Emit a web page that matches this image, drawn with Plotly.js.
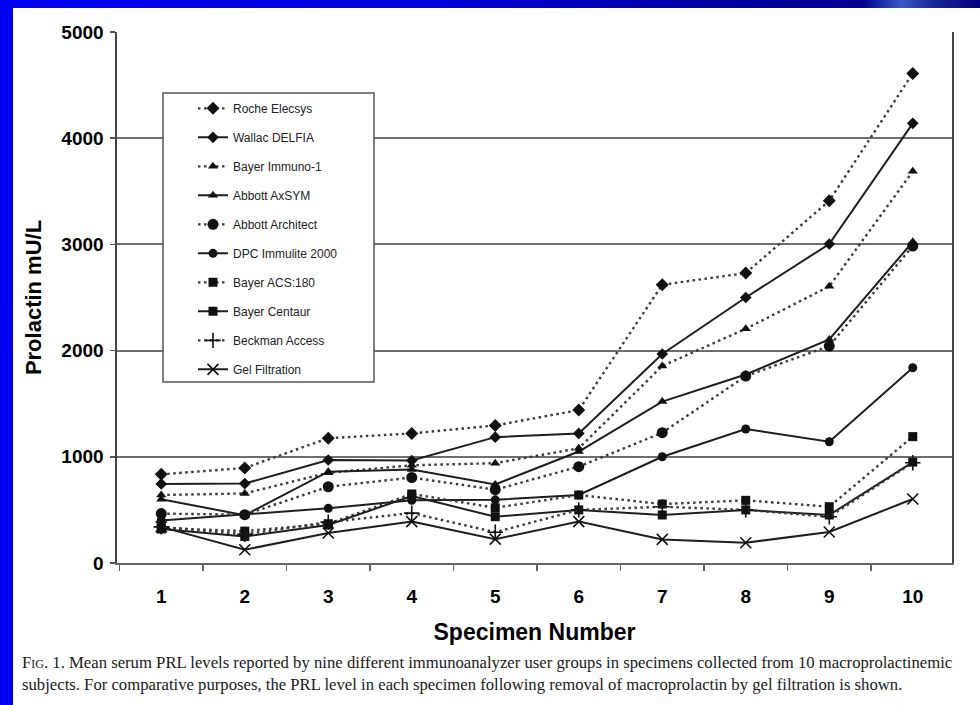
<!DOCTYPE html>
<html>
<head>
<meta charset="utf-8">
<script src="https://cdn.plot.ly/plotly-3.0.1.min.js"></script>
<style>
  html, body { margin: 0; padding: 0; width: 980px; height: 705px; overflow: hidden; background: #0000ee; }
  #topband { position: absolute; left: 0; top: 0; width: 980px; height: 8px;
    background: linear-gradient(to right, #0000f2 0%, #0000d8 45%, #0000a0 75%, #00008c 88%, #3a5ac8 92%, #1a2a9a 95%, #000080 100%); }
  #chart { position: absolute; left: 13px; top: 8px; width: 967px; height: 697px; background: #ffffff; }
</style>
</head>
<body>
<div id="topband"></div>
<div id="chart"></div>
<script>
// ---- data ----
const specimen = [1, 2, 3, 4, 5, 6, 7, 8, 9, 10];
const tickLabels = ["1", "2", "3", "4", "5", "6", "7", "8", "9", "10"];

const rocheElecsys     = [835, 895, 1175, 1220, 1295, 1440, 2620, 2730, 3410, 4610];
const wallacDelfia     = [745, 748, 970, 965, 1185, 1220, 1968, 2500, 3004, 4140];
const bayerImmuno1     = [640, 655, 850, 920, 940, 1080, 1855, 2205, 2605, 3688];
const abbottAxsym      = [600, 450, 860, 880, 740, 1050, 1520, 1775, 2105, 3025];
const abbottArchitect  = [465, 455, 718, 805, 690, 907, 1227, 1760, 2043, 2985];
const dpcImmulite2000  = [400, 455, 515, 590, 595, 640, 1000, 1262, 1142, 1839];
const bayerAcs180      = [330, 300, 370, 650, 520, 640, 555, 590, 530, 1190];
const bayerCentaur     = [320, 250, 358, 630, 436, 500, 452, 500, 452, 950];
const beckmanAccess    = [340, 270, 385, 470, 290, 500, 530, 500, 436, 944];
const gelFiltration    = [340, 125, 282, 390, 225, 390, 222, 191, 292, 603];

const seriesNames = ["Roche Elecsys", "Wallac DELFIA", "Bayer Immuno-1", "Abbott AxSYM",
  "Abbott Architect", "DPC Immulite 2000", "Bayer ACS:180", "Bayer Centaur",
  "Beckman Access", "Gel Filtration"];
const seriesValues = [rocheElecsys, wallacDelfia, bayerImmuno1, abbottAxsym, abbottArchitect,
  dpcImmulite2000, bayerAcs180, bayerCentaur, beckmanAccess, gelFiltration];

const yTitle = "Prolactin mU/L";
const xTitle = "Specimen Number";
const captionLine1 = "Mean serum PRL levels reported by nine different immunoanalyzer user groups in specimens collected from 10 macroprolactinemic";
const captionLine2 = "subjects. For comparative purposes, the PRL level in each specimen following removal of macroprolactin by gel filtration is shown.";

// ---- styles ----
const DOT = "2.5px,3.5px";
const styles = [
  {dash: DOT,     symbol: "diamond",     size: 10},
  {dash: "solid", symbol: "diamond",     size: 9},
  {dash: DOT,     symbol: "triangle-up", size: 9},
  {dash: "solid", symbol: "triangle-up", size: 9},
  {dash: DOT,     symbol: "circle",      size: 11},
  {dash: "solid", symbol: "circle",      size: 9},
  {dash: DOT,     symbol: "square",      size: 9},
  {dash: "solid", symbol: "square",      size: 9},
  {dash: DOT,     symbol: "cross-thin",  size: 11},
  {dash: "solid", symbol: "x-thin",      size: 11}
];

const traces = seriesValues.map((vals, i) => {
  const st = styles[i];
  const thin = st.symbol.endsWith("-thin");
  return {
    type: "scatter",
    mode: "lines+markers",
    name: seriesNames[i],
    legendgroup: "g" + i,
    x: specimen,
    y: vals,
    line: {color: st.dash === "solid" ? "#1e1e1e" : "#3a3a3a", width: st.dash === "solid" ? 2 : 2.4, dash: st.dash},
    marker: {symbol: st.symbol, size: st.size, color: "#111111",
             line: {color: "#111111", width: thin ? 1.6 : 0}},
    cliponaxis: false
  };
});

const layout = {
  width: 967,
  height: 697,
  margin: {l: 104, r: 28, t: 24, b: 142},
  paper_bgcolor: "#ffffff",
  plot_bgcolor: "#ffffff",
  showlegend: true,
  font: {family: "Liberation Sans, Arial, sans-serif", color: "#000000"},
  xaxis: {
    range: [0.47, 10.47],
    tickmode: "array",
    tickvals: specimen,
    ticktext: tickLabels,
    ticks: "",
    ticklabelstandoff: 15,
    tickfont: {size: 19, family: "Liberation Sans, Arial, sans-serif", weight: "bold", color: "#000"},
    showgrid: false,
    zeroline: false,
    showline: true,
    linecolor: "#666666",
    linewidth: 2,
    minor: {tickmode: "linear", tick0: 0.5, dtick: 1, ticks: "outside", ticklen: 6, tickwidth: 1.5, tickcolor: "#666666", showgrid: false},
    title: {text: xTitle, standoff: 18, font: {size: 23, weight: "bold", color: "#000"}},
    fixedrange: true
  },
  yaxis: {
    range: [0, 5000],
    tickmode: "linear",
    tick0: 0,
    dtick: 1000,
    ticks: "outside",
    ticklen: 5,
    tickwidth: 1.5,
    tickcolor: "#555555",
    ticklabelstandoff: 3,
    tickfont: {size: 19, family: "Liberation Sans, Arial, sans-serif", weight: "bold", color: "#000"},
    showgrid: true,
    gridcolor: "#6e6e6e",
    gridwidth: 2,
    zeroline: false,
    showline: true,
    mirror: true,
    linecolor: "#444444",
    linewidth: 1.6,
    title: {text: yTitle, standoff: 13, font: {size: 22, weight: "bold", color: "#000"}},
    fixedrange: true
  },
  legend: {
    x: 0.091, y: 0.8835, xanchor: "left", yanchor: "top",
    bgcolor: "rgba(0,0,0,0)",
    borderwidth: 0,
    traceorder: "grouped",
    tracegroupgap: 10,
    font: {size: 12, color: "#222222", family: "Liberation Sans, Arial, sans-serif"}
  },
  shapes: [
    {type: "rect", xref: "paper", yref: "paper", x0: 0.0551, x1: 0.3078, y0: 0.3409, y1: 0.8851,
     line: {color: "#555555", width: 1.5}, fillcolor: "#ffffff", layer: "above"}
  ],
  annotations: [
    {xref: "paper", yref: "paper", x: -0.1162, y: -0.208, xanchor: "left", yanchor: "middle",
     align: "left", showarrow: false,
     text: "F<span style=\"font-size:12px\">IG</span>. 1. " + captionLine1 + "<br>" + captionLine2,
     font: {family: "Liberation Serif, Times New Roman, serif", size: 16.7, color: "#1a1a1a"}}
  ]
};

Plotly.newPlot("chart", traces, layout, {displayModeBar: false, staticPlot: true});
</script>
</body>
</html>
